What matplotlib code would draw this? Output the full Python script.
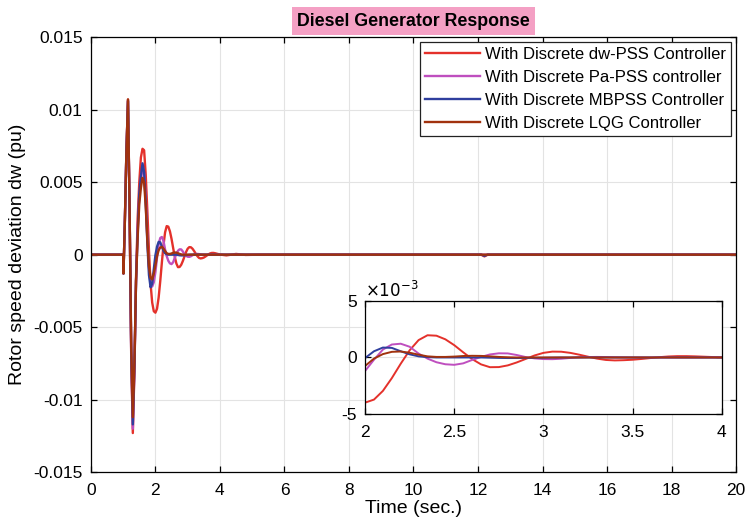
import matplotlib.pyplot as plt

plt.rcParams['font.family'] = ['Liberation Sans', 'DejaVu Sans']
plt.rcParams['axes.unicode_minus'] = False

# sample times (s)
t = [0, 1.0, 1.01,
     1.05, 1.10, 1.15, 1.20, 1.25, 1.30, 1.35, 1.40, 1.45, 1.50,
     1.55, 1.60, 1.65, 1.70, 1.75, 1.80, 1.85, 1.90, 1.95, 2.00,
     2.05, 2.10, 2.15, 2.20, 2.25, 2.30, 2.35, 2.40, 2.45, 2.50,
     2.55, 2.60, 2.65, 2.70, 2.75, 2.80, 2.85, 2.90, 2.95, 3.00,
     3.05, 3.10, 3.15, 3.20, 3.25, 3.30, 3.35, 3.40, 3.45, 3.50,
     3.55, 3.60, 3.65, 3.70, 3.75, 3.80, 3.85, 3.90, 3.95, 4.00,
     4.2, 4.5, 4.8, 5.2, 12.1, 12.2, 12.3, 20]

# rotor speed deviation, in units of 1e-3 pu
dw_pss = [0, 0, -1.3,
          2.0, 7.0, 10.7, 3.0, -7.0, -12.3, -8.0, -1.5, 2.5, 5.0,
          6.7, 7.3, 7.2, 5.5, 3.0, 0.3, -2.0, -3.3, -3.9, -4.0,
          -3.73, -2.96, -1.83, -0.55, 0.64, 1.54, 1.97, 1.93, 1.61, 1.09,
          0.46, -0.14, -0.61, -0.86, -0.85, -0.70, -0.44, -0.13, 0.18, 0.41,
          0.52, 0.51, 0.41, 0.25, 0.07, -0.10, -0.22, -0.26, -0.24, -0.20,
          -0.13, -0.05, 0.03, 0.09, 0.12, 0.12, 0.10, 0.07, 0.04, 0.01,
          -0.05, 0.05, -0.02, 0, 0, -0.12, 0, 0]
pa_pss = [0, 0, -1.3,
          2.0, 7.0, 10.6, 3.0, -6.8, -12.0, -7.8, -1.8, 1.8, 4.0,
          5.2, 6.0, 5.6, 3.8, 1.2, -0.9, -2.0, -2.2, -1.9, -1.2,
          -0.2, 0.7, 1.15, 1.22, 0.95, 0.35, -0.1, -0.42, -0.6, -0.65,
          -0.52, -0.22, 0.05, 0.27, 0.37, 0.36, 0.22, 0.04, -0.08, -0.14,
          -0.15, -0.11, -0.04, 0.02, 0.04, 0.05, 0.04, 0.02, 0.01, 0,
          0, 0, 0, 0, 0, 0, 0, 0, 0, 0,
          0, 0, 0, 0, 0, 0, 0, 0]
mbpss = [0, 0, -1.3,
         2.0, 7.0, 10.6, 3.0, -6.6, -11.7, -7.6, -1.8, 1.5, 4.2,
         5.4, 6.3, 5.7, 3.6, 0.8, -1.4, -2.25, -2.0, -1.0, -0.05,
         0.55, 0.88, 0.85, 0.55, 0.28, 0.10, 0.03, 0, 0, 0,
         0, 0, 0, -0.02, -0.04, -0.05, -0.05, -0.04, -0.03, -0.02,
         -0.01, 0, 0, 0, 0, 0, 0, 0, 0, 0,
         0, 0, 0, 0, 0, 0, 0, 0, 0, 0,
         0, 0, 0, 0, 0, -0.08, 0, 0]
lqg = [0, 0, -1.3,
       2.0, 7.0, 10.7, 3.2, -6.3, -11.2, -7.4, -1.8, 1.2, 3.5,
       4.6, 5.3, 5.0, 3.3, 1.0, -0.8, -1.6, -1.7, -1.3, -0.75,
       -0.1, 0.3, 0.5, 0.53, 0.42, 0.25, 0.1, 0.05, 0.05, 0.08,
       0.13, 0.15, 0.14, 0.1, 0.05, 0.02, 0, 0, 0, 0,
       0, 0, 0, 0, 0, 0, 0, 0, 0, 0,
       0, 0, 0, 0, 0, 0, 0, 0, 0, 0,
       0, 0, 0, 0, 0, 0, 0, 0]

series = [
    (dw_pss, '#e4312b', 'With Discrete dw-PSS Controller'),
    (pa_pss, '#bf4fbf', 'With Discrete Pa-PSS controller'),
    (mbpss, '#2f3f9e', 'With Discrete MBPSS Controller'),
    (lqg, '#a1320e', 'With Discrete LQG Controller'),
]


def style_axes(ax):
    ax.grid(True, color='#e3e3e3', lw=0.8)
    ax.set_axisbelow(True)
    ax.tick_params(direction='in', top=True, right=True, labelsize=12.5,
                   length=4, width=0.9)
    ax.tick_params(axis='x', pad=8)
    ax.tick_params(axis='y', pad=6)
    for s in ax.spines.values():
        s.set_linewidth(0.9)


fig = plt.figure(figsize=(7.45, 5.30), dpi=100)
ax = fig.add_axes([0.122, 0.109, 0.866, 0.821])
for y, c, lab in series:
    ax.plot(t, [v * 1e-3 for v in y], color=c, lw=1.7, label=lab)
ax.set_xlim(0, 20)
ax.set_ylim(-0.015, 0.015)
ax.set_xticks(range(0, 21, 2))
ax.set_yticks([-0.015, -0.01, -0.005, 0, 0.005, 0.01, 0.015])
ax.set_yticklabels(['-0.015', '-0.01', '-0.005', '0', '0.005', '0.01', '0.015'])
style_axes(ax)
ax.set_xlabel('Time (sec.)', fontsize=14, labelpad=1)
ax.set_ylabel('Rotor speed deviation dw (pu)', fontsize=14, labelpad=5)
ax.set_title('Diesel Generator Response', fontsize=12.8, fontweight='bold', pad=8,
             bbox=dict(facecolor='#f4a0c4', edgecolor='none', pad=4))
leg = ax.legend(loc='upper right', fontsize=12, handlelength=3.3,
                fancybox=False, edgecolor='#222222', framealpha=1,
                borderaxespad=0.3, labelspacing=0.48, handletextpad=0.3,
                borderpad=0.3)
leg.get_frame().set_linewidth(0.9)

# zoomed inset, values shown in units of 1e-3
axi = fig.add_axes([0.490, 0.219, 0.479, 0.213])
for y, c, lab in series:
    axi.plot(t, y, color=c, lw=1.4)
axi.set_xlim(2, 4)
axi.set_ylim(-5, 5)
axi.set_xticks([2, 2.5, 3, 3.5, 4])
axi.set_xticklabels(['2', '2.5', '3', '3.5', '4'])
axi.set_yticks([-5, 0, 5])
axi.set_yticklabels(['-5', '0', '5'])
style_axes(axi)
axi.text(0.0, 1.01, r'$\times10^{-3}$', transform=axi.transAxes,
         fontsize=12, ha='left', va='bottom')

fig.savefig('out.png', dpi=100)
